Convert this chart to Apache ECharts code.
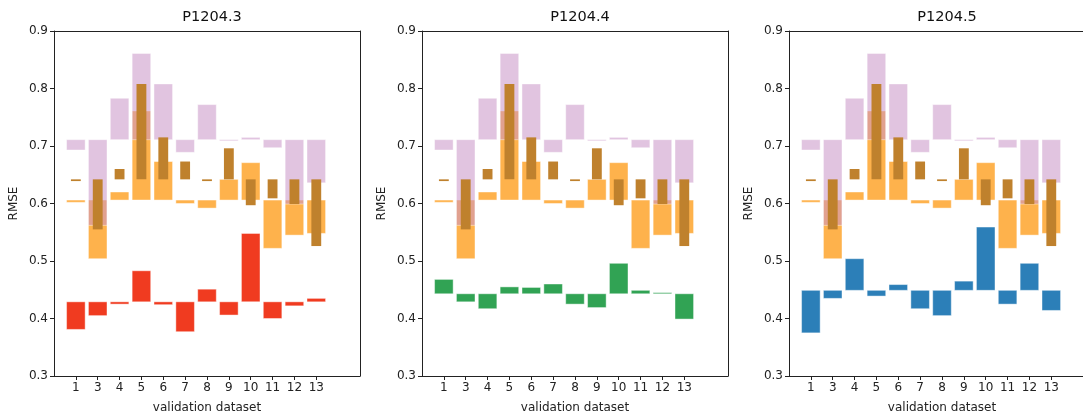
<!DOCTYPE html>
<html>
<head>
<meta charset="utf-8">
<script src="https://cdn.jsdelivr.net/npm/echarts@6/dist/echarts.min.js"></script>
<style>
  html, body { margin: 0; padding: 0; background: #fff; }
  #main { width: 1083px; height: 413px; }
</style>
</head>
<body>
<div id="main"></div>
<script>
// validation datasets
var categories = ['1', '3', '4', '5', '6', '7', '8', '9', '10', '11', '12', '13'];
var yTicks = [0.3, 0.4, 0.5, 0.6, 0.7, 0.8, 0.9];
var panelTitles = ['P1204.3', 'P1204.4', 'P1204.5'];

// shared reference bars (same in every panel), floating from a baseline
var pinkBase = 0.711;
var pinkVals = [0.693, 0.562, 0.783, 0.861, 0.808, 0.689, 0.772, 0.709, 0.715, 0.697, 0.599, 0.636];
var orangeBase = 0.606;
var orangeVals = [0.602, 0.504, 0.620, 0.761, 0.673, 0.600, 0.592, 0.642, 0.671, 0.522, 0.545, 0.548];
var brownBase = 0.642;
var brownVals = [0.639, 0.555, 0.660, 0.808, 0.715, 0.673, 0.639, 0.696, 0.597, 0.609, 0.599, 0.526];

// per-model bars
var redBase = 0.429;
var redVals = [0.381, 0.405, 0.425, 0.483, 0.424, 0.377, 0.451, 0.406, 0.548, 0.400, 0.422, 0.435];
var greenBase = 0.443;
var greenVals = [0.468, 0.429, 0.417, 0.455, 0.454, 0.460, 0.425, 0.419, 0.496, 0.449, 0.445, 0.399];
var blueBase = 0.449;
var blueVals = [0.375, 0.435, 0.504, 0.439, 0.459, 0.417, 0.405, 0.465, 0.559, 0.425, 0.496, 0.414];

var modelBases = [redBase, greenBase, blueBase];
var modelVals = [redVals, greenVals, blueVals];
var modelColors = ['#f03b20', '#31a354', '#2c7fb8'];

var chart = echarts.init(document.getElementById('main'), null, { renderer: 'canvas' });

var FONT = 'DejaVu Sans';
var gridLefts = [54, 422, 789];
var gridWidth = 306;
var EDGE = 'rgba(255,255,255,0.55)';
var SPINE = { color: '#222', width: 1 };

// floating bar: each item is [index, base, value]
function floatBars(base, vals) {
  return vals.map(function (v, i) { return [i, base, v]; });
}

function barSeries(k, name, base, vals, width, fill, stroke) {
  return {
    name: name,
    type: 'custom',
    xAxisIndex: 2 * k,
    yAxisIndex: 2 * k,
    clip: true,
    encode: { x: 0, y: [1, 2] },
    data: floatBars(base, vals),
    renderItem: function (params, api) {
      var x = api.value(0);
      var a = api.value(1);
      var b = api.value(2);
      var p0 = api.coord([x - width / 2, Math.max(a, b)]);
      var p1 = api.coord([x + width / 2, Math.min(a, b)]);
      return {
        type: 'rect',
        shape: { x: p0[0], y: p0[1], width: p1[0] - p0[0], height: Math.max(p1[1] - p0[1], 1) },
        style: { fill: fill, stroke: stroke, lineWidth: stroke ? 0.8 : 0 }
      };
    }
  };
}

var tickIdx = categories.map(function (c, i) { return i; });
var grids = [], xAxes = [], yAxes = [], series = [], titles = [];
for (var k = 0; k < 3; k++) {
  grids.push({
    left: gridLefts[k], width: gridWidth, top: 31, bottom: 37,
    outerBoundsMode: 'none', containLabel: false, show: false
  });
  xAxes.push({
    type: 'value', gridIndex: k, min: -1, max: 13, interval: 1,
    name: 'validation dataset', nameLocation: 'middle', nameGap: 26,
    nameTextStyle: { fontFamily: FONT, fontSize: 12, color: '#222' },
    axisLine: { show: true, onZero: false, lineStyle: SPINE },
    axisTick: { show: true, length: 4, customValues: tickIdx, lineStyle: SPINE },
    axisLabel: {
      fontFamily: FONT, fontSize: 12, color: '#222', margin: 6,
      customValues: tickIdx,
      formatter: function (v) { return categories[v] || ''; }
    },
    splitLine: { show: false }
  });
  // top spine
  xAxes.push({
    type: 'value', gridIndex: k, position: 'top', min: -1, max: 13,
    axisLine: { show: true, onZero: false, lineStyle: SPINE },
    axisTick: { show: false }, axisLabel: { show: false }, splitLine: { show: false }
  });
  yAxes.push({
    type: 'value', gridIndex: k, min: 0.3, max: 0.9, interval: 0.1,
    name: 'RMSE', nameLocation: 'middle', nameGap: 34,
    nameTextStyle: { fontFamily: FONT, fontSize: 12, color: '#222' },
    axisLine: { show: true, onZero: false, lineStyle: SPINE },
    axisTick: { show: true, length: 4, customValues: yTicks, lineStyle: SPINE },
    axisLabel: {
      fontFamily: FONT, fontSize: 12, color: '#222', margin: 6,
      customValues: yTicks,
      formatter: function (v) { return v.toFixed(1); }
    },
    splitLine: { show: false }
  });
  // right spine
  yAxes.push({
    type: 'value', gridIndex: k, position: 'right', min: 0.3, max: 0.9,
    axisLine: { show: true, onZero: false, lineStyle: SPINE },
    axisTick: { show: false }, axisLabel: { show: false }, splitLine: { show: false }
  });
  titles.push({
    text: panelTitles[k], left: gridLefts[k] + gridWidth / 2, top: 5, textAlign: 'center',
    textStyle: { fontFamily: FONT, fontSize: 14.5, fontWeight: 'normal', color: '#111' }
  });
  series.push(barSeries(k, 'orange', orangeBase, orangeVals, 0.85, '#feb24c', EDGE));
  series.push(barSeries(k, 'pink', pinkBase, pinkVals, 0.85, 'rgba(201,148,199,0.55)', EDGE));
  series.push(barSeries(k, 'brown', brownBase, brownVals, 0.45, '#bf812d', null));
  series.push(barSeries(k, 'model', modelBases[k], modelVals[k], 0.85, modelColors[k], EDGE));
}

chart.setOption({
  animation: false,
  backgroundColor: '#fff',
  title: titles,
  grid: grids,
  xAxis: xAxes,
  yAxis: yAxes,
  series: series
});
</script>
</body>
</html>
